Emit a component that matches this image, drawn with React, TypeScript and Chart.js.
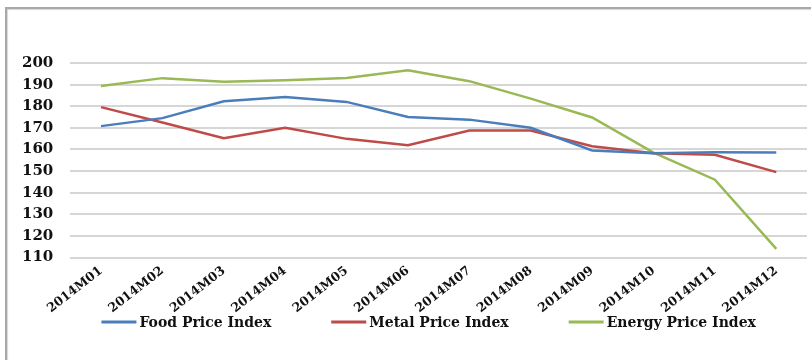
import React, { useEffect, useRef } from "react";
import { Chart, registerables } from "chart.js";

Chart.register(...registerables);

const months = [
  "2014M01", "2014M02", "2014M03", "2014M04", "2014M05", "2014M06",
  "2014M07", "2014M08", "2014M09", "2014M10", "2014M11", "2014M12",
];
const foodIndex = [170.8, 174.5, 182.3, 184.3, 182.0, 175.0, 173.8, 170.0, 159.5, 158.3, 158.7, 158.6];
const metalIndex = [179.6, 172.5, 165.2, 170.0, 164.9, 162.0, 168.8, 168.8, 161.5, 158.3, 157.5, 149.5];
const energyIndex = [189.4, 193.0, 191.3, 192.0, 193.1, 196.6, 191.6, 183.5, 174.8, 158.5, 146.0, 114.0];
const seriesNames = ["Food Price Index", "Metal Price Index", "Energy Price Index"];
const seriesColors = ["#4a7ebb", "#be4b48", "#98b954"];

const FONT = "'DejaVu Serif', serif";

// Legend drawn beneath the axis labels: a short line sample followed by the series name.
const bottomLegend = {
  id: "bottomLegend",
  afterDraw(chart: Chart) {
    const { ctx, chartArea } = chart;
    const sample = 35;
    const gap = 3;
    const spacing = 60;
    ctx.save();
    ctx.font = `bold 14px ${FONT}`;
    const items = chart.data.datasets.map((ds) => ({
      label: String(ds.label),
      color: String(ds.borderColor),
      w: sample + gap + ctx.measureText(String(ds.label)).width,
    }));
    const total = items.reduce((s, it) => s + it.w, 0) + spacing * (items.length - 1);
    let x = (chartArea.left + chartArea.right) / 2 - 10 - total / 2;
    const y = 322;
    for (const it of items) {
      ctx.strokeStyle = it.color;
      ctx.lineWidth = 3;
      ctx.beginPath();
      ctx.moveTo(x, y);
      ctx.lineTo(x + sample, y);
      ctx.stroke();
      ctx.fillStyle = "#111";
      ctx.textBaseline = "middle";
      ctx.textAlign = "left";
      ctx.fillText(it.label, x + sample + gap, y + 1);
      x += it.w + spacing;
    }
    ctx.restore();
  },
};

export default function App() {
  const canvasRef = useRef<HTMLCanvasElement | null>(null);

  useEffect(() => {
    if (!canvasRef.current) return;
    const series = [foodIndex, metalIndex, energyIndex];
    const chart = new Chart(canvasRef.current, {
      type: "line",
      data: {
        labels: months,
        datasets: series.map((values, i) => ({
          label: seriesNames[i],
          data: values,
          borderColor: seriesColors[i],
          backgroundColor: seriesColors[i],
          borderWidth: 2.5,
          pointRadius: 0,
          tension: 0,
        })),
      },
      options: {
        animation: false,
        responsive: false,
        maintainAspectRatio: false,
        layout: { padding: { top: 63, left: 5, right: 4, bottom: 38 } },
        plugins: {
          legend: { display: false },
          tooltip: { enabled: false },
          title: { display: false },
        },
        scales: {
          x: {
            offset: true,
            grid: { display: false, drawTicks: false },
            border: { display: false },
            afterFit(scale: any) {
              // rotated labels may overhang into the y-axis gutter
              scale.paddingLeft = 0;
              scale.paddingRight = 0;
            },
            ticks: {
              autoSkip: false,
              maxRotation: 38,
              minRotation: 38,
              padding: 6,
              color: "#111",
              font: { family: FONT, size: 12.5, weight: "bold" },
            },
          },
          y: {
            min: 110,
            max: 200,
            grid: { color: "#d6d6d6", lineWidth: 2, drawTicks: false },
            border: { display: false },
            ticks: {
              autoSkip: false,
              stepSize: 10,
              padding: 17,
              color: "#111",
              font: { family: FONT, size: 15, weight: "bold" },
            },
          },
        },
      },
      plugins: [bottomLegend],
    });
    return () => chart.destroy();
  }, []);

  return (
    <div style={{ position: "fixed", left: 0, top: 0, width: 811, height: 360, background: "#fff", overflow: "hidden" }}>
      <div
        style={{
          position: "absolute",
          left: 5,
          top: 7,
          width: 820,
          height: 370,
          borderTop: "2px solid #a8a8a8",
          borderLeft: "2px solid #a8a8a8",
          boxShadow: "inset 1px 1px 1px #d8d8d8",
        }}
      />
      <canvas ref={canvasRef} width={811} height={360} style={{ position: "absolute", left: 0, top: 0 }} />
    </div>
  );
}
